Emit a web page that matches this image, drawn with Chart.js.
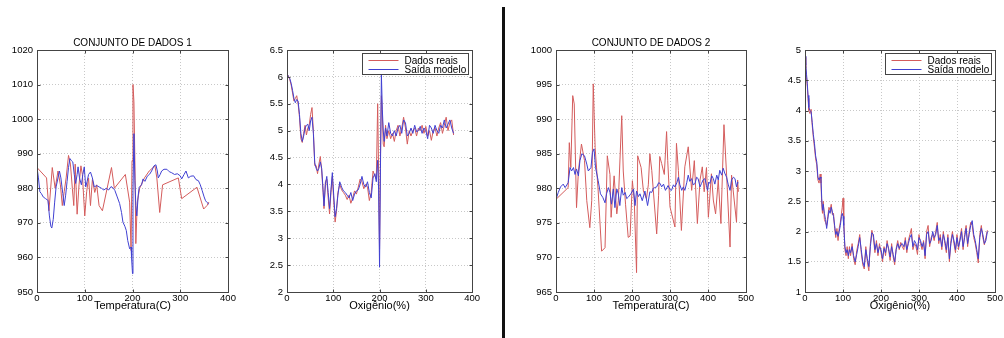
<!DOCTYPE html>
<html><head><meta charset="utf-8">
<script src="https://cdn.jsdelivr.net/npm/chart.js@4.4.1/dist/chart.umd.min.js"></script>
<style>
html,body{margin:0;padding:0;background:#fff;width:1004px;height:338px;overflow:hidden;}
canvas{position:absolute;top:0;}
#divider{position:absolute;left:502px;top:7px;width:3px;height:331px;background:#111;}
</style></head><body>
<canvas id="c1" width="240" height="338" style="left:0px"></canvas>
<canvas id="c2" width="241" height="338" style="left:240px"></canvas>
<div id="divider"></div>
<canvas id="c3" width="260" height="338" style="left:510px"></canvas>
<canvas id="c4" width="234" height="338" style="left:770px"></canvas>
<script>
// ---------- text ----------
const panelTitles = ['CONJUNTO DE DADOS 1', '', 'CONJUNTO DE DADOS 2', ''];
const xLabels = ['Temperatura(C)', 'Oxigênio(%)', 'Temperatura(C)', 'Oxigênio(%)'];
const seriesNames = ['Dados reais', 'Saída modelo'];

// ---------- ticks ----------
const p1XTicks = [0, 100, 200, 300, 400];
const p1YTicks = [950, 960, 970, 980, 990, 1000, 1010, 1020];
const p2XTicks = [0, 100, 200, 300, 400];
const p2YTicks = [2, 2.5, 3, 3.5, 4, 4.5, 5, 5.5, 6, 6.5];
const p3XTicks = [0, 100, 200, 300, 400, 500];
const p3YTicks = [965, 970, 975, 980, 985, 990, 995, 1000];
const p4XTicks = [0, 100, 200, 300, 400, 500];
const p4YTicks = [1, 1.5, 2, 2.5, 3, 3.5, 4, 4.5, 5];

// ---------- panel 1: Temperatura, conjunto 1 ([x, y]) ----------
const p1Real = [[0,986],[20,983],[25,973.5],[32,986],[38,980],[44,985],[49,981],[53,975],[57,979],[61,983],
 [66,989.5],[70,987],[74,980],[77,975],[80,987],[84,972.5],[88,981],[92,986.5],[95,984],[100,972],
 [104,979],[108,983],[112,975],[116,982.5],[121,978.8],[125,981],[130,975],[137,973.5],[156,986],[162,980],
 [185,984],[194,976],[197,962],[199,988],[201,1010],[203,1005],[205,988],[207,964],[210,976],[215,980],
 [225,983],[235,985],[247,986.5],[251,983],[257,973],[263,981],[296,983],[303,977],[335,980.3],[349,974],
 [356,975],[360,976]];
const p1Model = [[0,986],[3,983],[6,979],[9,978.5],[13,977.5],[18,977],[23,976.5],[26,972],[29,969],[31,968.5],
 [34,971],[37,976],[40,980.4],[44,983],[47,985],[50,983],[54,978.5],[57,975],[60,978],[63,982],
 [66,986],[69,988.6],[72,988],[75,987.6],[78,984],[81,981.4],[84,984],[86,986.2],[89,983],[93,981],
 [96,984],[99,986.2],[102,980.4],[105,982],[108,984],[112,984.7],[116,983],[120,980.4],[125,980.8],[130,980.4],
 [135,980],[140,979.5],[145,980],[150,979.5],[155,980.5],[160,980],[163,979.4],[168,977.5],[173,975.6],[177,973],
 [180,970.2],[184,969],[187,967.8],[190,964.9],[194,962.5],[197,963],[198,960],[200,955.3],[201,979.4],[203,995.8],
 [205,982.3],[207,975],[209,972],[212,978],[214,980.3],[219,981],[222,982.7],[226,982],[231,983.5],[236,984.1],
 [240,985],[245,986.5],[249,986.8],[252,985],[254,983],[258,984],[261,985],[266,985.5],[272,985.5],[277,984.8],
 [282,984.5],[288,984],[294,984.2],[300,983.6],[303,982.7],[308,984],[312,985],[317,983],[322,983.5],[328,983.6],
 [333,982.5],[338,982.2],[342,981],[346,979.3],[350,977.5],[353,976.4],[356,975.9],[360,975.4]];

// ---------- panel 2: Oxigênio, conjunto 1 ----------
const p2X = [0,3,6,9,12,15,18,21,24,27,
 30,33,36,39,42,45,48,51,54,57,
 60,63,66,69,72,75,78,80,83,86,
 89,92,95,98,101,104,107,110,114,118,
 122,126,130,134,138,142,146,150,154,158,
 162,166,170,174,178,182,186,190,193,196,
 198,200,202,204,206,208,210,213,216,220,
 224,228,232,236,240,244,248,252,256,260,
 264,268,272,276,280,284,288,292,296,300,
 304,308,312,316,320,324,328,332,336,340,
 344,348,352,356,360];
const p2Real = [6.05,6.02,5.95,5.85,5.7,5.55,5.6,5.65,5.5,5.25,
 4.85,4.78,4.95,5.1,4.92,5.05,5.1,5.3,5.43,5.0,
 4.35,4.35,4.2,4.38,4.52,4.25,3.85,3.55,4.05,4.1,
 3.75,3.45,3.85,4.15,3.7,3.3,3.5,3.85,4.0,3.9,
 3.85,3.8,3.72,3.8,3.65,3.75,3.88,3.82,3.95,4.1,
 4.05,3.92,4.0,3.95,3.7,3.85,4.25,4.15,4.1,5.5,
 4.2,2.8,4.5,5.65,5.3,4.75,4.7,5.1,4.85,5.0,
 4.85,4.95,4.8,5.0,5.1,4.9,5.05,5.25,5.05,4.75,
 5.0,4.9,5.0,5.05,4.9,5.05,5.0,5.1,4.95,5.08,
 4.9,5.0,4.82,5.0,5.05,4.9,5.05,5.15,4.95,5.1,
 5.25,5.0,5.15,5.2,4.92];
const p2Model = [6.07,6.0,5.97,5.88,5.75,5.6,5.52,5.58,5.55,5.3,
 4.95,4.8,4.9,5.05,5.1,5.12,5.0,5.18,5.25,4.95,
 4.4,4.3,4.25,4.3,4.42,4.3,3.9,3.6,4.0,4.15,
 3.85,3.55,3.9,4.22,3.8,3.4,3.55,3.8,4.05,3.95,
 3.88,3.85,3.8,3.75,3.85,3.7,3.82,3.88,3.9,4.0,
 4.15,4.0,3.95,4.05,3.85,3.75,4.12,4.2,4.05,4.45,
 3.9,2.46,4.3,6.05,5.4,5.0,4.8,5.05,4.9,5.15,
 4.95,4.9,5.0,4.9,5.05,5.1,4.95,5.2,5.15,4.9,
 4.95,5.05,4.95,5.1,4.98,5.0,5.08,4.95,5.05,5.0,
 4.85,5.1,5.05,4.95,5.1,5.0,4.95,5.1,5.05,5.2,
 5.05,5.12,5.2,5.05,4.95];

// ---------- panel 3: Temperatura, conjunto 2 ([x, y]) ----------
const p3Real = [[0,978.4],[32,980.1],[35,986.6],[39,983],[44,993.4],[48,992.2],[54,977.2],[59,982.5],[67,986.4],[75,984],
 [81,978.2],[89,974.3],[94,978.2],[98,995.1],[103,985.9],[111,979.6],[120,970.9],[129,971.4],[135,984.7],[142,982],
 [145,975.8],[153,981.8],[160,976.3],[164,978.2],[173,990.5],[177,982.5],[183,977.7],[190,972.9],[195,973.1],[201,981.1],
 [206,978.2],[212,967.8],[215,984.7],[224,983],[230,979.6],[238,978.5],[243,980.5],[247,985],[252,982.6],[265,973.4],
 [270,979],[273,984.6],[278,983.6],[285,982],[291,988.2],[294,984],[300,977.3],[313,974.4],[317,986.5],[322,982.6],
 [330,973.9],[339,983.1],[348,986],[357,979.7],[364,984],[372,974.9],[379,981.2],[385,983.1],[390,979.5],[396,983],
 [401,975.8],[409,982.1],[414,978.3],[420,976.3],[427,981.2],[434,974.9],[442,989.2],[449,981.9],[458,971.5],[462,981.9],
 [475,975.1],[478,981.2],[480,979.5]];
const p3Model = [[0,978.4],[6,979.4],[12,980.2],[19,980.6],[24,980.1],[32,980.8],[37,983],[41,982.5],[46,983],[50,982],
 [54,982.8],[59,981.8],[63,984],[68,985],[75,984.7],[81,983.5],[85,982.5],[92,983],[96,985.2],[100,985.7],
 [104,983],[111,981.1],[117,979.2],[123,978.7],[129,977.9],[133,979.2],[138,980.1],[142,979.4],[146,977.7],[151,979.9],
 [155,977.2],[160,979.9],[164,979.2],[168,977.5],[173,980.1],[177,979],[182,979.4],[186,978.5],[190,978.7],[197,979.2],
 [204,979.9],[208,977.5],[212,979.6],[217,978.8],[221,979.2],[227,978.2],[234,979.6],[241,977.5],[247,979.5],[252,979.4],
 [256,980],[260,980.1],[265,980.2],[270,980.8],[274,980.7],[278,980.2],[283,980.6],[288,979.7],[295,980.4],[300,979.8],
 [304,979.7],[309,980.5],[313,980.2],[318,980.8],[322,981.6],[326,980.5],[331,979.7],[335,980.2],[339,979.7],[344,980.8],
 [348,981.9],[352,981],[357,981.4],[361,980.5],[366,980.7],[370,981.6],[374,981.4],[379,980.2],[383,980.7],[387,981.2],
 [392,981.4],[396,980.4],[399,979.7],[402,980.9],[405,980.7],[410,981.8],[414,981.4],[418,980.6],[423,981.9],[427,981.2],
 [431,982.6],[436,981.9],[440,982.9],[444,982.2],[449,981.6],[453,980.6],[458,979.7],[462,981.2],[467,981.6],[471,981.4],
 [475,980.2],[478,980.9],[480,980.8]];

// ---------- panel 4: Oxigênio, conjunto 2 ----------
const p4X = [0,2,4,6,8,10,13,16,19,22,
 25,28,31,34,37,40,42,44,46,48,
 51,54,57,60,63,66,69,72,75,78,
 81,84,87,90,93,96,98,100,102,105,
 108,111,114,117,120,124,128,132,136,140,
 144,148,152,156,160,164,168,172,176,180,
 184,188,192,196,200,204,208,212,216,220,
 224,228,232,236,240,244,248,252,256,260,
 264,268,272,276,280,284,288,292,296,300,
 304,308,312,316,320,324,328,332,336,340,
 344,348,352,356,360,364,368,372,376,380,
 384,388,392,396,400,404,408,412,416,420,
 424,428,432,436,440,444,448,452,456,460,
 464,468,472,476,480];
const p4Real = [4.88,4.7,4.55,4.4,4.2,4.0,3.95,4.02,3.75,3.55,
 3.38,3.2,3.1,2.85,2.8,2.95,2.8,2.45,2.3,2.5,
 2.2,2.15,2.1,2.25,2.4,2.35,2.45,2.28,2.3,2.05,
 1.9,2.05,1.85,2.05,2.15,2.3,2.4,2.55,2.2,1.7,
 1.6,1.75,1.55,1.75,1.6,1.8,1.55,1.45,1.68,1.8,
 1.95,1.65,1.45,1.38,1.75,1.5,1.35,1.8,2.02,1.9,
 1.65,1.85,1.6,1.8,1.65,1.5,1.75,1.6,1.85,1.7,
 1.52,1.8,1.58,1.45,1.72,1.85,1.7,1.82,1.75,1.7,
 1.9,1.65,1.85,1.95,2.05,1.7,1.8,1.75,1.62,1.95,
 1.8,1.7,1.85,1.55,2.0,2.1,1.75,1.9,1.95,1.85,
 2.0,2.15,1.8,1.95,1.7,2.0,1.8,1.65,1.95,1.5,
 1.85,2.0,1.8,1.65,1.95,1.7,1.9,2.05,1.7,1.95,
 2.1,1.75,2.0,2.15,2.1,1.9,1.8,1.65,1.48,1.95,
 2.1,1.9,1.78,1.9,2.02];
const p4Model = [4.9,4.75,4.6,4.45,4.25,4.05,4.0,3.98,3.8,3.6,
 3.45,3.25,3.15,2.9,2.85,2.9,2.88,2.55,2.35,2.45,
 2.3,2.2,2.05,2.2,2.35,2.3,2.4,2.32,2.25,2.1,
 1.95,2.0,1.92,2.0,2.1,2.25,2.3,2.25,2.1,1.75,
 1.65,1.7,1.6,1.7,1.65,1.75,1.6,1.5,1.62,1.75,
 1.9,1.7,1.5,1.42,1.7,1.55,1.42,1.75,1.98,1.95,
 1.7,1.8,1.65,1.75,1.7,1.55,1.72,1.65,1.8,1.72,
 1.58,1.75,1.62,1.5,1.7,1.8,1.72,1.78,1.8,1.75,
 1.85,1.7,1.8,1.9,1.95,1.75,1.85,1.8,1.7,1.9,
 1.85,1.75,1.82,1.6,1.95,2.0,1.8,1.85,2.0,1.9,
 1.95,2.1,1.85,1.9,1.75,1.95,1.85,1.7,1.9,1.55,
 1.8,1.95,1.85,1.7,1.9,1.75,1.85,2.0,1.75,1.9,
 2.05,1.8,1.95,2.1,2.18,1.95,1.85,1.7,1.55,1.9,
 2.05,1.95,1.8,1.85,2.0];

// ---------- rendering ----------
const FONT = "'Liberation Sans', Arial, Helvetica, sans-serif";
const RED = 'rgb(212,92,92)';
const BLUE = 'rgb(64,64,210)';
Chart.defaults.font.family = FONT;

const pairs = arr => arr.map(p => ({x: p[0], y: p[1]}));
const zip = (xs, ys) => xs.map((x, i) => ({x, y: ys[i]}));

const matlabBox = {
  id: 'matlabBox',
  afterDatasetsDraw(chart, args, opts) {
    const {ctx, chartArea: a, scales: {x, y}} = chart;
    const L = Math.round(a.left) + 0.5, T = Math.round(a.top) + 0.5;
    const R = Math.round(a.right) + 0.5, B = Math.round(a.bottom) + 0.5;
    ctx.save();
    ctx.strokeStyle = '#444';
    ctx.lineWidth = 1;
    ctx.setLineDash([]);
    ctx.strokeRect(L, T, R - L, B - T);
    ctx.beginPath();
    x.ticks.forEach(t => {
      const px = Math.round(x.getPixelForValue(t.value)) + 0.5;
      ctx.moveTo(px, B); ctx.lineTo(px, B - 3);
      ctx.moveTo(px, T); ctx.lineTo(px, T + 3);
    });
    y.ticks.forEach(t => {
      const py = Math.round(y.getPixelForValue(t.value)) + 0.5;
      ctx.moveTo(L, py); ctx.lineTo(L + 3, py);
      ctx.moveTo(R, py); ctx.lineTo(R - 3, py);
    });
    ctx.stroke();
    if (opts && opts.legend) {
      const w = 106, h = 21;
      const x0 = Math.round(a.right - 4 - w) + 0.5, y0 = Math.round(a.top + 3) + 0.5;
      ctx.fillStyle = '#fff';
      ctx.fillRect(x0, y0, w, h);
      ctx.strokeStyle = '#444';
      ctx.strokeRect(x0, y0, w, h);
      ctx.font = '10px ' + FONT;
      ctx.textBaseline = 'middle';
      ctx.textAlign = 'left';
      chart.data.datasets.forEach((ds, i) => {
        const yy = Math.round(y0 + 6 + i * 9) + 0.5;
        ctx.beginPath();
        ctx.strokeStyle = ds.borderColor;
        ctx.lineWidth = 1;
        ctx.moveTo(x0 + 6, yy); ctx.lineTo(x0 + 36, yy);
        ctx.stroke();
        ctx.fillStyle = '#000';
        ctx.fillText(ds.label, x0 + 42, yy + 0.5);
      });
    }
    ctx.restore();
  }
};

function makeChart(id, c) {
  const tickFont = {family: FONT, size: 9.5};
  return new Chart(document.getElementById(id), {
    type: 'scatter',
    data: {datasets: [
      {label: seriesNames[0], data: c.real, borderColor: RED, showLine: true, pointRadius: 0, borderWidth: 1, order: 1, tension: 0},
      {label: seriesNames[1], data: c.model, borderColor: BLUE, showLine: true, pointRadius: 0, borderWidth: 1, order: 0, tension: 0}
    ]},
    options: {
      responsive: false, animation: false, devicePixelRatio: 1,
      events: [],
      layout: {padding: {left: 0, right: c.padRight, top: c.title ? 0 : 50, bottom: 25}},
      plugins: {
        legend: {display: false},
        tooltip: {enabled: false},
        title: {display: !!c.title, text: c.title, fullSize: false, color: '#000',
                font: {family: FONT, size: 10, weight: 'normal'}, padding: {top: 37, bottom: 1}},
        matlabBox: {legend: c.legend}
      },
      scales: {
        x: {
          type: 'linear', min: c.xTicks[0], max: c.xTicks[c.xTicks.length - 1],
          afterBuildTicks: s => { s.ticks = c.xTicks.map(v => ({value: v})); },
          afterFit: s => { s.height = 21; },
          grid: {color: '#c8c8c8', lineWidth: 1, drawTicks: false},
          border: {display: false, dash: [1, 2]},
          ticks: {padding: 1, font: tickFont, color: '#000', maxRotation: 0, autoSkip: false, callback: v => String(v)},
          title: {display: true, text: c.xLabel, color: '#000', font: {family: FONT, size: 11}, padding: 0}
        },
        y: {
          type: 'linear', min: c.yTicks[0], max: c.yTicks[c.yTicks.length - 1],
          afterBuildTicks: s => { s.ticks = c.yTicks.map(v => ({value: v})); },
          afterFit: s => { s.width = c.yWidth; },
          grid: {color: '#c8c8c8', lineWidth: 1, drawTicks: false},
          border: {display: false, dash: [1, 2]},
          ticks: {padding: 4, font: tickFont, color: '#000', autoSkip: false, callback: v => String(v)}
        }
      }
    },
    plugins: [matlabBox]
  });
}

makeChart('c1', {real: pairs(p1Real), model: pairs(p1Model), xTicks: p1XTicks, yTicks: p1YTicks,
  yWidth: 37, padRight: 12, title: panelTitles[0], xLabel: xLabels[0], legend: false});
makeChart('c2', {real: zip(p2X, p2Real), model: zip(p2X, p2Model), xTicks: p2XTicks, yTicks: p2YTicks,
  yWidth: 47, padRight: 4, title: panelTitles[1], xLabel: xLabels[1], legend: true});
makeChart('c3', {real: pairs(p3Real), model: pairs(p3Model), xTicks: p3XTicks, yTicks: p3YTicks,
  yWidth: 46, padRight: 24, title: panelTitles[2], xLabel: xLabels[2], legend: false});
makeChart('c4', {real: zip(p4X, p4Real), model: zip(p4X, p4Model), xTicks: p4XTicks, yTicks: p4YTicks,
  yWidth: 35, padRight: 9, title: panelTitles[3], xLabel: xLabels[3], legend: true});
</script>
</body></html>
